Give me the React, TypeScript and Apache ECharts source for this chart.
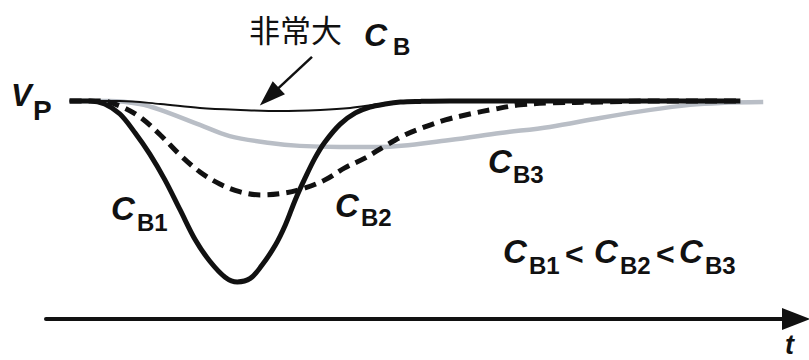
import React, { useEffect, useRef } from "react";
import * as echarts from "echarts";

// time (arbitrary units) and voltage (V_P = 100) for each curve
const tCB1 = [3.1, 5.8, 7.7, 9.7, 11.7, 13.6, 15.6, 17.6, 19.6, 21.5, 23.5, 25.1, 26.8, 28.3, 30.1, 31.4, 32.7, 34.0, 35.3, 36.6, 38.6, 40.6, 42.5, 44.5, 46.5, 49.1, 53.0, 91.1];
const vCB1 = [100, 100, 98.6, 94.0, 85.3, 75.7, 63.8, 50.0, 36.2, 26.5, 19.2, 17.0, 18.6, 24.5, 33.9, 43.1, 54.6, 64.7, 73.9, 81.2, 89.4, 94.5, 97.2, 98.6, 99.5, 99.8, 100, 100];

const tCB2 = [3.1, 7.1, 9.7, 12.3, 15.0, 17.6, 20.2, 22.8, 25.5, 28.3, 31.4, 34.0, 36.6, 39.2, 41.9, 44.5, 47.1, 49.7, 52.4, 55.6, 58.9, 62.2, 66.1, 72.7, 79.3, 91.1];
const vCB2 = [100, 100, 97.7, 92.7, 84.4, 75.2, 67.4, 61.9, 58.3, 56.9, 57.8, 60.1, 63.8, 69.3, 73.9, 79.4, 84.4, 88.1, 91.3, 94.0, 96.3, 98.2, 99.1, 99.5, 100, 100];

const tCB3 = [3.1, 8.4, 12.3, 15.0, 20.2, 24.1, 29.4, 33.3, 38.6, 43.8, 53.0, 59.6, 66.1, 72.7, 79.3, 84.5, 88.5, 94.1];
const vCB3 = [100, 100, 98.6, 95.9, 89.0, 83.9, 80.7, 79.4, 78.9, 78.9, 82.1, 85.3, 88.1, 92.2, 95.9, 98.2, 99.1, 99.5];

const tLarge = [3.1, 9.7, 15.0, 20.2, 25.5, 30.7, 36.0, 39.9, 43.8, 47.8, 53.0];
const vLarge = [100, 100, 98.6, 96.8, 95.9, 95.4, 95.9, 96.8, 98.6, 100, 100];

// pointer arrow for "非常大 C_B" (from, to) in data units
const pointerFrom = [34.9, 120.2];
const pointerTo = [29.3, 102.0];

const FONT = '"Liberation Sans", Arial, Helvetica, sans-serif';
const CJK = '"Noto Sans CJK SC", "Noto Sans CJK JP", sans-serif';

const zip = (t: number[], v: number[]) => t.map((x, i) => [x, v[i]]);

type Piece = [string, number, number, number, boolean, boolean, string?];
// text, left x, middle y, size, italic, bold, family
const pieces: Piece[] = [
  ["非常大", 249, 28, 31, false, false, CJK],
  ["C", 364, 35, 32, true, true],
  ["B", 393, 46, 24, false, true],
  ["V", 11, 95, 31, true, true],
  ["P", 33, 110, 28, false, true],
  ["C", 111, 208.5, 33, true, true],
  ["B1", 137, 222, 24, false, true],
  ["C", 335, 205, 33, true, true],
  ["B2", 361, 217, 24, false, true],
  ["C", 488, 161.5, 33, true, true],
  ["B3", 513, 174, 24, false, true],
  ["C", 503, 251.5, 33, true, true],
  ["B1", 529, 265, 24, false, true],
  ["<", 565, 254, 32, false, true],
  ["C", 594, 251.5, 33, true, true],
  ["B2", 620, 265, 24, false, true],
  ["<", 656, 254, 32, false, true],
  ["C", 679, 251.5, 33, true, true],
  ["B3", 705, 265, 24, false, true],
  ["t", 785, 345, 27, true, true],
];

export default function App() {
  const ref = useRef<HTMLDivElement>(null);
  useEffect(() => {
    if (!ref.current) return;
    const chart = echarts.init(ref.current, null, { renderer: "svg" });
    const base = { type: "line", showSymbol: false, symbol: "none", smooth: 0.35, clip: false, silent: true };
    chart.setOption({
      animation: false,
      backgroundColor: "#ffffff",
      grid: { left: 46, right: 13, top: 0, bottom: 41 },
      xAxis: {
        type: "value",
        min: 0,
        max: 98.4,
        axisLine: {
          show: true,
          onZero: false,
          symbol: ["none", "triangle"],
          symbolSize: [22, 28],
          lineStyle: { color: "#111", width: 4 },
        },
        axisTick: { show: false },
        axisLabel: { show: false },
        splitLine: { show: false },
      },
      yAxis: {
        type: "value",
        min: 0,
        max: 146.3,
        show: false,
        splitLine: { show: false },
      },
      series: [
        {
          ...base,
          name: "CB3",
          data: zip(tCB3, vCB3),
          lineStyle: { color: "#b9bec6", width: 4.5 },
        },
        {
          ...base,
          name: "CB2",
          data: zip(tCB2, vCB2),
          lineStyle: { color: "#111", width: 5, type: [12, 7], cap: "butt" },
        },
        {
          ...base,
          name: "CBlarge",
          data: zip(tLarge, vLarge),
          lineStyle: { color: "#111", width: 2 },
          markLine: {
            silent: true,
            symbol: ["none", "triangle"],
            symbolSize: [18, 26],
            label: { show: false },
            lineStyle: { color: "#111", width: 2.5, type: "solid" },
            data: [[{ coord: pointerFrom }, { coord: pointerTo }]],
          },
        },
        {
          ...base,
          name: "CB1",
          data: zip(tCB1, vCB1),
          lineStyle: { color: "#111", width: 5 },
        },
      ],
      graphic: pieces.map(([text, x, y, size, italic, bold, fam]) => ({
        type: "text",
        x,
        y,
        silent: true,
        style: {
          text,
          fill: "#111",
          fontSize: size,
          fontFamily: fam || FONT,
          fontStyle: italic ? "italic" : "normal",
          fontWeight: bold ? "bold" : "normal",
          align: "left",
          verticalAlign: "middle",
        },
      })),
    });
    return () => chart.dispose();
  }, []);
  return <div ref={ref} style={{ width: 809, height: 360, position: "absolute", left: 0, top: 0, background: "#fff" }} />;
}
